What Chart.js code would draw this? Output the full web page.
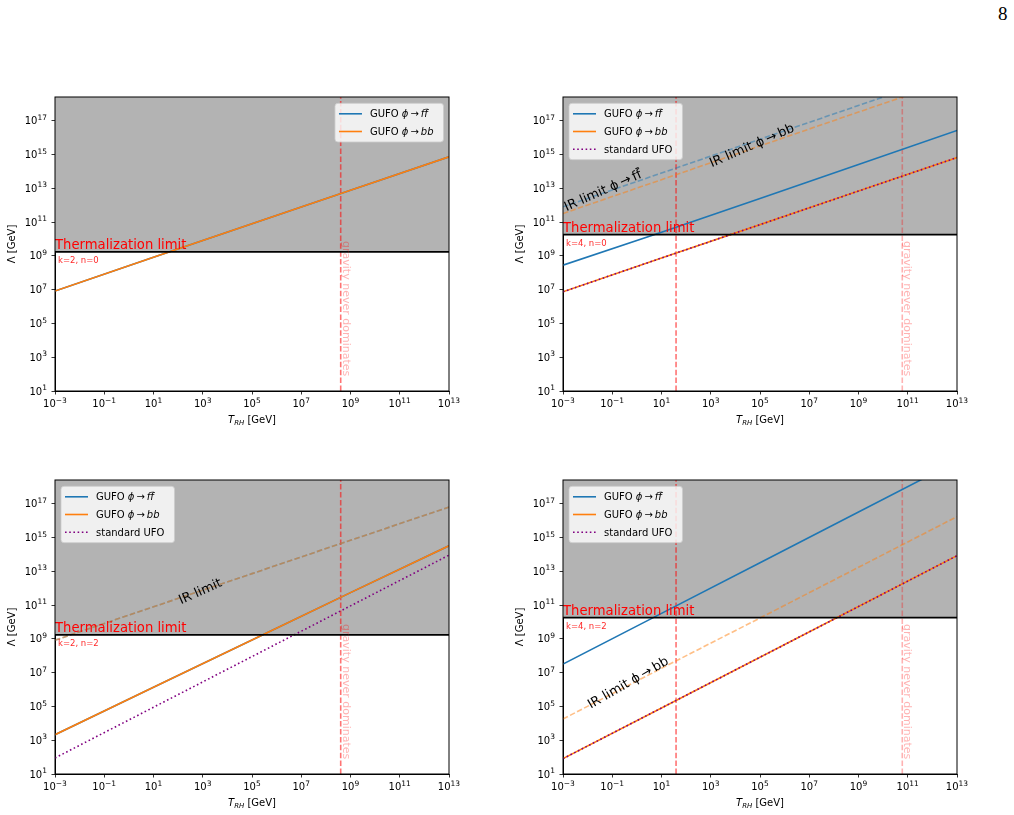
<!DOCTYPE html>
<html>
<head>
<meta charset="utf-8">
<script src="https://cdn.jsdelivr.net/npm/chart.js@4/dist/chart.umd.min.js"></script>
<style>
body { margin: 0; background: #fff; width: 1014px; height: 815px; position: relative; overflow: hidden; }
canvas { position: absolute; }
#page { position: absolute; left: 998px; top: 3px; font: 19px "Liberation Serif"; color: #000; }
</style>
</head>
<body>
<div id="page">8</div>
<canvas id="pa" width="461" height="349" style="left:0px;top:87px"></canvas>
<canvas id="pb" width="461" height="349" style="left:508px;top:87px"></canvas>
<canvas id="pc" width="461" height="349" style="left:0px;top:470px"></canvas>
<canvas id="pd" width="461" height="349" style="left:508px;top:470px"></canvas>
<script>
// axes
const trh = [1e-3, 1e1, 1e5, 1e9, 1e13];
const xTicks = [1e-3, 1e-1, 1e1, 1e3, 1e5, 1e7, 1e9, 1e11, 1e13];
const yTicks = [1e1, 1e3, 1e5, 1e7, 1e9, 1e11, 1e13, 1e15, 1e17];
const yMin = 10, yMax = 2.5e18;
const gravTextY = 7.5e5;
const legendLabels = ['GUFO *ϕ*\u2009→\u2009*f~f*', 'GUFO *ϕ*\u2009→\u2009*bb*', 'standard UFO'];

// k=2, n=0
const a_ff = [8.3e6, 8.3e8, 8.0e10, 7.6e12, 7.2e14];
const a_bb = [8.3e6, 8.3e8, 8.0e10, 7.6e12, 7.2e14];
const a_therm = 1.7e9;
const a_grav = [4e8];

// k=4, n=0
const b_ff = [2.8e8, 2.5e10, 2.5e12, 2.5e14, 2.6e16];
const b_bb = [7.4e6, 7.4e8, 7.0e10, 6.8e12, 6.5e14];
const b_ufo = [7.4e6, 7.4e8, 7.0e10, 6.8e12, 6.5e14];
const b_ff_ir = [7.9e11, 7.9e13, 7.9e15, 7.9e17, 7.9e19];
const b_bb_ir = [3.2e11, 3.2e13, 3.2e15, 3.2e17, 3.2e19];
const b_therm = 1.8e10;
const b_grav = [39, 6e10];

// k=2, n=2
const c_ff = [2.1e3, 1.35e6, 8.5e8, 5.4e11, 3.2e14];
const c_bb = [2.1e3, 1.35e6, 8.5e8, 5.4e11, 3.2e14];
const c_ufo = [89, 8.9e4, 8.9e7, 8.9e10, 8.9e13];
const c_ff_ir = [8.3e8, 7.9e10, 7.2e12, 6.8e14, 6.2e16];
const c_bb_ir = [8.3e8, 7.9e10, 7.2e12, 6.8e14, 6.2e16];
const c_therm = 1.7e9;
const c_grav = [4e8];

// k=4, n=2
const d_ff = [3.2e7, 3.2e10, 3.2e13, 3.2e16, 3.2e19];
const d_bb = [81, 8.1e4, 8.1e7, 8.1e10, 8.3e13];
const d_ufo = [81, 8.1e4, 8.1e7, 8.1e10, 8.3e13];
const d_bb_ir = [1.8e4, 1.8e7, 1.7e10, 1.7e13, 1.7e16];
const d_therm = 1.8e10;
const d_grav = [39, 6e10];

const BLUE = '#1f77b4', ORANGE = '#ff7f0e';
const FONT = '"DejaVu Sans"';

const expOf = v => String(Math.round(Math.log10(v))).replace('-', '\u2212');

// '*' toggles italic, '~' puts a bar over the next char
function parseRich(s) {
    const segs = [];
    let it = false, bar = false;
    for (const ch of s) {
        if (ch === '*') { it = !it; continue; }
        if (ch === '~') { bar = true; continue; }
        const last = segs[segs.length - 1];
        if (!bar && last && last.it === it && !last.bar) last.t += ch;
        else segs.push({t: ch, it: it, bar: bar});
        bar = false;
    }
    return segs;
}
function richWidth(ctx, s, size) {
    let w = 0;
    for (const g of parseRich(s)) {
        ctx.font = (g.it ? 'italic ' : '') + size + 'px ' + FONT;
        w += ctx.measureText(g.t).width;
    }
    return w;
}
function drawRich(ctx, s, x, y, size, center) {
    if (center) x -= richWidth(ctx, s, size) / 2;
    ctx.textAlign = 'left';
    ctx.textBaseline = 'alphabetic';
    for (const g of parseRich(s)) {
        ctx.font = (g.it ? 'italic ' : '') + size + 'px ' + FONT;
        const w = ctx.measureText(g.t).width;
        ctx.fillText(g.t, x, y);
        if (g.bar) {
            ctx.save();
            ctx.strokeStyle = ctx.fillStyle;
            ctx.lineWidth = size * 0.07;
            ctx.beginPath();
            ctx.moveTo(x + w * 0.3, y - size * 0.82);
            ctx.lineTo(x + w * 1.05, y - size * 0.82);
            ctx.stroke();
            ctx.restore();
        }
        x += w;
    }
}
// "10" with a raised exponent; anchor: 'center' (x axis) or 'right' (y axis)
function drawPow(ctx, v, x, y, anchor) {
    const e = expOf(v);
    ctx.font = '10px ' + FONT;
    const w1 = ctx.measureText('10').width;
    ctx.font = '7.5px ' + FONT;
    const w2 = ctx.measureText(e).width;
    let x0 = anchor === 'right' ? x - w1 - w2 : x - (w1 + w2) / 2;
    ctx.textAlign = 'left';
    ctx.textBaseline = 'alphabetic';
    ctx.font = '10px ' + FONT;
    ctx.fillText('10', x0, y);
    ctx.font = '7.5px ' + FONT;
    ctx.fillText(e, x0 + w1, y - 4.5);
}

const pts = vals => trh.map((t, i) => ({x: t, y: vals[i]}));
const curve = (vals, color, extra) => Object.assign({data: pts(vals), borderColor: color, borderWidth: 1.6, fill: false}, extra);

function gravLines(list) {
    return list.map((g, i) => ({
        data: [{x: g, y: yMin}, {x: g, y: yMax}],
        borderColor: (list.length > 1 && i > 0) ? 'rgba(255,0,0,0.3)' : 'rgba(255,0,0,0.55)',
        borderWidth: 1.6, borderDash: [5.5, 2.4], fill: false, order: 8
    }));
}
function thermLine(v) {
    return {data: [{x: 1e-3, y: v}, {x: 1e13, y: v}], borderColor: '#000', borderWidth: 1.8,
        fill: 'end', backgroundColor: '#b3b3b3', order: 1};
}
const dashIr = [5.5, 2.4];
const dotUfo = [1.6, 2.6];

const panels = {
    pa: {
        tag: 'k=2, n=0', therm: a_therm, grav: a_grav, legend: 'right', notes: [],
        datasets: [
            curve(a_ff, BLUE, {legendText: legendLabels[0], order: 5}),
            curve(a_bb, ORANGE, {legendText: legendLabels[1], order: 4})
        ]
    },
    pb: {
        tag: 'k=4, n=0', therm: b_therm, grav: b_grav, legend: 'left',
        notes: [
            {text: 'IR limit ϕ\u2009→\u2009f~f', x: 0.041, y: 7.8e12, angle: -24},
            {text: 'IR limit ϕ\u2009→\u2009bb', x: 4.6e4, y: 3.6e15, angle: -23.5}
        ],
        datasets: [
            curve(b_ff_ir, 'rgba(31,119,180,0.5)', {borderDash: dashIr, order: 7}),
            curve(b_bb_ir, 'rgba(255,127,14,0.5)', {borderDash: dashIr, order: 6}),
            curve(b_ff, BLUE, {legendText: legendLabels[0], order: 5}),
            curve(b_bb, ORANGE, {legendText: legendLabels[1], order: 4}),
            curve(b_ufo, 'purple', {legendText: legendLabels[2], borderDash: dotUfo, order: 3})
        ]
    },
    pc: {
        tag: 'k=2, n=2', therm: c_therm, grav: c_grav, legend: 'left',
        notes: [{text: 'IR limit', x: 776, y: 6.8e11, angle: -24}],
        datasets: [
            curve(c_ff_ir, 'rgba(31,119,180,0.5)', {borderDash: dashIr, order: 7}),
            curve(c_bb_ir, 'rgba(255,127,14,0.5)', {borderDash: dashIr, order: 6}),
            curve(c_ff, BLUE, {legendText: legendLabels[0], order: 5}),
            curve(c_bb, ORANGE, {legendText: legendLabels[1], order: 4}),
            curve(c_ufo, 'purple', {legendText: legendLabels[2], borderDash: dotUfo, order: 3})
        ]
    },
    pd: {
        tag: 'k=4, n=2', therm: d_therm, grav: d_grav, legend: 'left',
        notes: [{text: 'IR limit ϕ\u2009→\u2009bb', x: 0.43, y: 2.7e6, angle: -30}],
        datasets: [
            curve(d_bb_ir, 'rgba(255,127,14,0.5)', {borderDash: dashIr, order: 6}),
            curve(d_ff, BLUE, {legendText: legendLabels[0], order: 5}),
            curve(d_bb, ORANGE, {legendText: legendLabels[1], order: 4}),
            curve(d_ufo, 'purple', {legendText: legendLabels[2], borderDash: dotUfo, order: 3})
        ]
    }
};

const decor = {
    id: 'decor',
    afterDatasetsDraw(chart) {
        const p = panels[chart.canvas.id];
        const ctx = chart.ctx, a = chart.chartArea, xs = chart.scales.x, ys = chart.scales.y;
        ctx.save();
        ctx.beginPath();
        ctx.rect(a.left, a.top, a.right - a.left, a.bottom - a.top);
        ctx.clip();
        const ty = ys.getPixelForValue(p.therm);
        ctx.fillStyle = '#ff0000';
        ctx.font = '13.2px ' + FONT;
        ctx.textAlign = 'left';
        ctx.textBaseline = 'alphabetic';
        ctx.fillText('Thermalization limit', a.left, ty - 3);
        ctx.fillStyle = 'rgba(255,0,0,0.85)';
        ctx.font = '8.5px ' + FONT;
        ctx.textBaseline = 'middle';
        ctx.fillText(p.tag, a.left + 3, ty + 9);

        // gravity text next to the last vertical line
        const gx = xs.getPixelForValue(p.grav[p.grav.length - 1]);
        ctx.save();
        ctx.translate(gx + 5, ys.getPixelForValue(gravTextY));
        ctx.rotate(Math.PI / 2);
        ctx.fillStyle = 'rgba(255,0,0,0.3)';
        ctx.font = '11px ' + FONT;
        ctx.textAlign = 'center';
        ctx.textBaseline = 'middle';
        ctx.fillText('gravity never dominates', 0, 0);
        ctx.restore();

        for (const n of p.notes) {
            ctx.save();
            ctx.translate(xs.getPixelForValue(n.x), ys.getPixelForValue(n.y));
            ctx.rotate(n.angle * Math.PI / 180);
            ctx.fillStyle = '#000';
            drawRich(ctx, n.text, 0, 4.5, 13, true);
            ctx.restore();
        }
        ctx.restore();
    },
    afterDraw(chart) {
        const p = panels[chart.canvas.id];
        const ctx = chart.ctx, a = chart.chartArea, xs = chart.scales.x, ys = chart.scales.y;
        ctx.save();
        // frame
        ctx.strokeStyle = '#000';
        ctx.lineWidth = 1;
        ctx.strokeRect(a.left, a.top, a.right - a.left, a.bottom - a.top);

        // tick labels from the scales' ticks
        ctx.fillStyle = '#000';
        xs.ticks.forEach(t => drawPow(ctx, t.value, xs.getPixelForValue(t.value), a.bottom + 16.3, 'center'));
        ys.ticks.forEach(t => drawPow(ctx, t.value, a.left - 8, ys.getPixelForValue(t.value) + 3.6, 'right'));

        // legend
        const items = chart.data.datasets.filter(d => d.legendText);
        const tw = Math.max(...items.map(d => richWidth(ctx, d.legendText, 10)));
        const w = 4 + 23 + 8 + tw + 10;
        const h = 21 + (items.length - 1) * 17.7;
        const bx = p.legend === 'right' ? a.right - 5.5 - w : a.left + 6;
        const by = a.top + 6.3;
        ctx.beginPath();
        ctx.roundRect(bx, by, w, h, 3);
        ctx.fillStyle = 'rgba(255,255,255,0.8)';
        ctx.fill();
        ctx.strokeStyle = 'rgba(204,204,204,0.8)';
        ctx.stroke();
        items.forEach((d, i) => {
            const cy = by + 10.5 + i * 17.7;
            ctx.save();
            ctx.strokeStyle = d.borderColor;
            ctx.lineWidth = d.borderWidth;
            ctx.setLineDash(d.borderDash || []);
            ctx.beginPath();
            ctx.moveTo(bx + 4, cy);
            ctx.lineTo(bx + 27, cy);
            ctx.stroke();
            ctx.restore();
            ctx.fillStyle = '#000';
            drawRich(ctx, d.legendText, bx + 35, cy + 3.6, 10, false);
        });

        // axis titles
        ctx.fillStyle = '#000';
        const xt = [['T', 'italic 10px ', 0], ['RH', 'italic 7px ', 2.5], [' [GeV]', '10px ', 0]];
        let total = 0;
        xt.forEach(t => { ctx.font = t[1] + FONT; total += ctx.measureText(t[0]).width; });
        let x = (a.left + a.right) / 2 - total / 2;
        ctx.textAlign = 'left';
        ctx.textBaseline = 'alphabetic';
        xt.forEach(t => {
            ctx.font = t[1] + FONT;
            ctx.fillText(t[0], x, a.bottom + 31.5 + t[2]);
            x += ctx.measureText(t[0]).width;
        });
        ctx.save();
        ctx.translate(a.left - 42.5, (a.top + a.bottom) / 2);
        ctx.rotate(-Math.PI / 2);
        ctx.font = '10px ' + FONT;
        ctx.textAlign = 'center';
        ctx.textBaseline = 'middle';
        ctx.fillText('Λ [GeV]', 0, 0);
        ctx.restore();
        ctx.restore();
    }
};

for (const id of Object.keys(panels)) {
    const p = panels[id];
    const datasets = [thermLine(p.therm)].concat(p.datasets, gravLines(p.grav));
    new Chart(document.getElementById(id), {
        type: 'line',
        data: {datasets: datasets},
        options: {
            responsive: false,
            animation: false,
            devicePixelRatio: 1,
            layout: {padding: {top: 10, right: 12, left: 0, bottom: 0}},
            elements: {point: {radius: 0}, line: {tension: 0}},
            plugins: {
                legend: {display: false},
                tooltip: {enabled: false},
                filler: {drawTime: 'beforeDatasetsDraw'}
            },
            scales: {
                x: {
                    type: 'logarithmic', min: 1e-3, max: 1e13,
                    afterBuildTicks: s => { s.ticks = xTicks.map(v => ({value: v})); },
                    afterFit: s => { s.height = 45; s.paddingLeft = 0; s.paddingRight = 0; },
                    ticks: {display: false, autoSkip: false, maxRotation: 0, minRotation: 0},
                    grid: {drawOnChartArea: false, tickLength: 3.5, color: '#000', lineWidth: 0.8},
                    border: {color: '#000', width: 1}
                },
                y: {
                    type: 'logarithmic', min: yMin, max: yMax,
                    afterBuildTicks: s => { s.ticks = yTicks.map(v => ({value: v})); },
                    afterFit: s => { s.width = 55; s.paddingTop = 0; s.paddingBottom = 0; },
                    ticks: {display: false, autoSkip: false},
                    grid: {drawOnChartArea: false, tickLength: 3.5, color: '#000', lineWidth: 0.8},
                    border: {color: '#000', width: 1}
                }
            }
        },
        plugins: [decor]
    });
}
</script>
</body>
</html>
